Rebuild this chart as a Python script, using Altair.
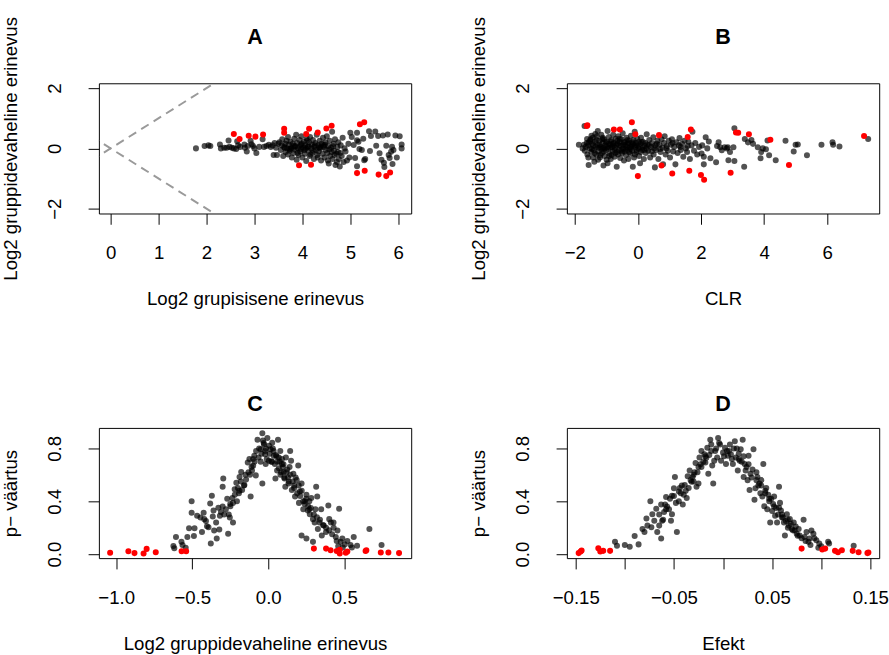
import altair as alt
import pandas as pd

FONT = "Liberation Sans"

# ---------------- Panel A (x: Log2 grupisisene erinevus, y: Log2 gruppidevaheline erinevus)
a_black_x = [1.78, 1.96, 2.04, 2.08, 2.28, 2.30, 2.37, 2.42, 2.46, 2.48, 2.53, 2.57, 2.62, 2.64, 2.66, 2.70,
             2.79, 2.80, 2.84, 2.86, 2.92, 2.94, 2.97, 3.00, 3.04, 3.10, 3.17, 3.20, 3.25, 3.30, 3.34, 3.38,
             3.40, 3.42, 3.45, 3.47, 3.50,
             3.52, 3.55, 3.57, 3.58, 3.60, 3.62, 3.64, 3.65, 3.67, 3.68, 3.70, 3.70,
             3.72, 3.74, 3.75, 3.77, 3.78, 3.80, 3.81, 3.83, 3.84, 3.86, 3.87, 3.88, 3.89,
             3.91, 3.92, 3.94, 3.95, 3.96, 3.98, 3.99, 4.00, 4.02, 4.03, 4.05, 4.06, 4.08, 4.09,
             4.11, 4.12, 4.14, 4.15, 4.16, 4.18, 4.20, 4.21, 4.22, 4.24, 4.25, 4.27, 4.28, 4.30,
             4.31, 4.33, 4.34, 4.36, 4.37, 4.39, 4.40, 4.42, 4.43, 4.45, 4.46, 4.48, 4.49,
             4.51, 4.52, 4.54, 4.55, 4.57, 4.58, 4.60, 4.62, 4.63, 4.65, 4.66, 4.68, 4.69,
             4.71, 4.73, 4.75, 4.76, 4.78, 4.80, 4.82, 4.84, 4.86, 4.88, 4.90, 4.93, 4.96, 4.98,
             5.00, 5.03, 5.07, 5.10, 5.14, 5.14, 5.14, 5.17, 5.19, 5.24, 5.27, 5.29, 5.31, 5.39, 5.41,
             5.43, 5.52, 5.54, 5.58, 5.61, 5.65, 5.68, 5.70, 5.71, 5.75, 5.78, 5.80, 5.82, 5.85, 5.87,
             5.88, 5.90, 5.94, 5.97, 6.03, 6.07, 6.07,
             3.63, 3.73, 3.85, 3.97, 4.07, 4.13, 4.23, 4.35, 4.44, 4.56, 4.64, 4.74,
             3.75, 3.82, 3.90, 3.97, 4.04, 4.10, 4.17, 4.26, 4.32, 4.38, 4.47, 4.53, 4.61, 4.67, 4.72, 4.79]
a_black_y = [0.00, 0.08, 0.10, 0.08, 0.13, 0.00, 0.02, 0.02, 0.26, 0.05, 0.02, 0.00, -0.02, 0.24, 0.10, 0.05,
             0.13, 0.02, -0.10, 0.08, 0.25, 0.14, 0.08, 0.00, -0.15, 0.05, 0.30, 0.05, 0.08, 0.12, 0.05, 0.10,
             -0.22, 0.18, 0.02, -0.22, 0.15,
             0.20, -0.05, 0.10, 0.30, -0.25, 0.05, 0.15, -0.12, 0.25, 0.00, -0.20, 0.38,
             0.12, -0.08, 0.22, 0.02, -0.30, 0.15, -0.15, 0.32, 0.05, -0.05, 0.45, -0.38, 0.18,
             0.00, -0.22, 0.28, 0.08, -0.10, 0.40, 0.15, -0.30, 0.02, 0.22, -0.18, 0.10, -0.42, 0.33,
             0.05, -0.08, 0.20, -0.25, 0.38, 0.00, 0.12, -0.15, 0.28, -0.35, 0.05, 0.18, -0.05, 0.45,
             -0.22, 0.10, -0.10, 0.25, 0.00, -0.40, 0.15, -0.18, 0.35, 0.05, -0.30, 0.20, -0.05,
             0.40, -0.15, 0.08, -0.50, 0.25, -0.25, 0.02, 0.55, -0.35, 0.15, -0.08, 0.30, -0.55,
             -0.18, 0.05, 0.20, -0.35, -0.60, 0.10, -0.25, 0.35, -0.45, 0.00, -0.10, -0.40, 0.15, -0.30,
             0.52, 0.38, 0.11, -0.32, 0.52, 0.27, -0.59, 0.22, -0.02, -0.05, 0.32, -0.39, -0.35, 0.57, -0.09,
             0.41, 0.56, 0.09, 0.41, -0.16, -0.38, 0.43, -0.48, -0.62, 0.09, 0.46, -0.22, -0.32, -0.11, 0.05,
             -0.52, -0.05, 0.43, -0.30, 0.40, 0.13, 0.00,
             0.02, -0.02, 0.08, -0.03, 0.00, 0.06, -0.08, 0.03, 0.10, -0.04, 0.07, -0.12,
             -0.02, 0.08, -0.15, 0.12, -0.05, 0.25, -0.20, 0.10, -0.30, 0.05, 0.12, -0.40, -0.12, -0.22, -0.45, -0.15]
a_red_x = [2.57, 2.69, 2.88, 3.02, 3.18, 3.62, 3.62, 3.93, 4.08, 4.14, 4.18, 4.32, 4.50, 4.61,
           5.14, 5.20, 5.29, 5.30, 5.59, 5.75, 5.83]
a_red_y = [0.48, 0.31, 0.42, 0.39, 0.46, 0.65, 0.52, -0.56, 0.48, 0.65, -0.54, 0.53, 0.66, 0.75,
           -0.82, 0.80, 0.87, -0.74, -0.87, -0.92, -0.80]
# reference lines y = x and y = -x
ab_x = [-0.4, 2.5]
ab_up_y = [-0.4, 2.5]
ab_down_y = [0.4, -2.5]

# ---------------- Panel B (x: CLR)
b_black_x = [-1.87, -1.71, -1.69, -1.61, -1.58, -1.56, -1.55, -1.52, -1.50, -1.48, -1.45, -1.43, -1.40, -1.38,
             -1.36, -1.34, -1.32, -1.30, -1.28, -1.27, -1.25, -1.22, -1.20, -1.18, -1.16, -1.14, -1.12, -1.10,
             -1.09, -1.07, -1.05, -1.03, -1.01,
             -0.98, -0.96, -0.96, -0.94, -0.92, -0.90, -0.88, -0.86, -0.84, -0.82, -0.80, -0.78, -0.76, -0.74,
             -0.72, -0.70, -0.67, -0.66, -0.64, -0.62, -0.60, -0.58, -0.56, -0.54, -0.52, -0.50, -0.48, -0.46,
             -0.44, -0.42, -0.40, -0.38, -0.36, -0.34, -0.32, -0.30, -0.28, -0.26, -0.24, -0.22, -0.20, -0.18,
             -0.16, -0.14, -0.12, -0.10, -0.08, -0.06, -0.04, -0.02,
             0.02, 0.04, 0.07, 0.08, 0.10, 0.13, 0.16, 0.19, 0.22, 0.25, 0.28, 0.30, 0.33, 0.36, 0.39, 0.42,
             0.45, 0.49, 0.50, 0.54, 0.55, 0.58, 0.62, 0.65, 0.68, 0.72, 0.75, 0.78, 0.80, 0.83, 0.85, 0.88,
             0.92, 0.95, 0.98,
             1.02, 1.05, 1.08, 1.12, 1.15, 1.19, 1.22, 1.26, 1.30, 1.32, 1.36, 1.40, 1.44, 1.48, 1.52, 1.56,
             1.60, 1.65, 1.70, 1.73, 1.78, 1.82, 1.88, 1.94,
             -1.65, -1.60, -1.47, -1.42, -1.35, -1.26, -1.21, -1.15, -1.11, -1.06, -0.99, -0.93, -0.87, -0.83,
             -0.77, -0.71, -0.65, -0.59, -0.53, -0.47, -0.41, -0.35, -0.29, -0.23, -0.17, -0.11, -0.05, 0.05,
             0.12, 0.20, 0.27, 0.35, 0.44, 0.52, 0.60, 0.70, 0.90, 1.10, 1.35, 1.58,
             -1.75, -1.68, -1.62, -1.57, -1.51, -1.46, -1.41, -1.37, -1.31, -1.24, -1.19, -1.13, -1.08, -1.02,
             -0.97, -0.91, -0.85, -0.79, -0.73, -0.68, -0.63, -0.57, -0.51, -0.45, -0.39, -0.33, -0.27, -0.21,
             -0.15, -0.09, -0.03, 0.03, 0.09, 0.15, 0.24,
             2.02, 2.04, 2.09, 2.09, 2.15, 2.20, 2.25, 2.30, 2.48, 2.51, 2.56, 2.61, 2.66, 2.75, 2.82, 2.85,
             2.87, 2.92, 3.03, 3.06, 3.06, 3.37, 3.39, 3.49, 3.60, 3.65, 3.80, 3.89, 3.91, 3.96, 4.06, 4.11,
             4.16, 4.37, 4.68, 4.94, 5.00, 5.07, 5.36, 5.82, 6.17, 6.19, 6.39, 7.30]
b_black_y = [0.12, 0.12, 0.74, 0.31, 0.10, -0.55, 0.20, 0.00, 0.30, -0.12, 0.15, 0.35, -0.05, -0.44,
             0.22, 0.05, -0.20, 0.40, 0.10, 0.58, -0.10, 0.25, -0.30, 0.05, 0.45, -0.15, 0.18, 0.02,
             -0.57, 0.30, -0.25, 0.10, -0.05,
             0.22, -0.49, 0.58, 0.00, 0.38, -0.18, 0.12, -0.35, 0.28, 0.05, -0.10, 0.45, 0.18, -0.28,
             0.02, 0.32, -0.61, -0.12, 0.15, 0.40, -0.05, 0.22, -0.32, 0.08, 0.30, -0.15, 0.50, 0.00,
             -0.40, 0.20, 0.10, -0.22, 0.35, -0.05, 0.15, -0.35, 0.25, 0.02, -0.18, 0.42, 0.10, -0.08,
             -0.61, 0.28, -0.30, 0.55, 0.05, 0.18, -0.12, 0.32,
             0.00, -0.25, -0.49, 0.15, 0.35, -0.05, 0.22, -0.35, 0.08, -0.15, 0.47, 0.12, -0.08, 0.28, -0.30, 0.05,
             0.18, 0.37, -0.20, -0.63, 0.10, -0.05, 0.25, -0.35, 0.12, -0.12, 0.30, 0.02, -0.53, 0.18, 0.40, -0.20,
             0.08, -0.08, 0.25,
             -0.30, 0.12, 0.30, -0.10, 0.05, -0.53, 0.20, -0.15, 0.10, 0.34, -0.05, 0.15, -0.28, 0.25, 0.00, -0.12,
             0.22, -0.35, 0.10, 0.55, -0.08, 0.18, -0.20, 0.05,
             0.05, -0.20, 0.42, -0.30, 0.48, -0.38, 0.12, -0.02, 0.35, 0.00, -0.38, 0.15, 0.02, -0.22,
             0.08, -0.15, 0.25, 0.10, -0.05, 0.12, -0.10, 0.05, 0.18, -0.02, 0.20, 0.10, -0.05, 0.05,
             0.20, -0.05, 0.00, 0.10, -0.10, 0.00, 0.15, -0.02, 0.00, 0.18, 0.05, 0.08,
             0.00, -0.08, 0.18, -0.30, 0.25, -0.02, 0.10, -0.15, 0.28, 0.02, -0.22, 0.30, -0.10, 0.20,
             0.05, -0.25, 0.22, 0.15, -0.05, 0.12, -0.20, 0.32, -0.10, 0.20, -0.02, 0.28, -0.12, 0.05,
             0.15, -0.20, 0.10, 0.22, -0.12, 0.02, 0.18,
             -0.17, 0.10, -0.28, -0.53, 0.37, 0.00, 0.23, -0.33, -0.46, 0.08, 0.20, 0.04, -0.06, 0.04, 0.00, 0.04,
             -0.39, -0.12, 0.04, 0.67, -0.42, -0.61, 0.31, 0.20, 0.28, 0.15, 0.04, -0.33, -0.12, 0.00, -0.03, 0.26,
             -0.23, -0.39, 0.25, -0.10, 0.12, 0.13, -0.23, 0.12, 0.20, 0.12, 0.06, 0.31]
b_red_x = [-1.62, -1.60, -0.76, -0.57, -0.19, -0.08, 0.00, 0.67, 0.75, 1.09, 1.58, 1.63, 1.68, 2.00, 2.10,
           2.94, 3.11, 3.18, 3.52, 4.20, 4.79, 7.17]
b_red_y = [0.74, 0.77, 0.63, 0.63, 0.87, 0.47, -0.92, 0.44, -0.57, -0.83, 0.38, -0.74, 0.63, -0.88, -1.04,
           -0.81, 0.53, 0.52, 0.47, 0.29, -0.55, 0.41]

# ---------------- Panel C (x: Log2 gruppidevaheline erinevus, y: p-value)
c_black_x = [-0.624, -0.607, -0.618, -0.571, -0.564, -0.543, -0.532, -0.521, -0.504, -0.504, -0.489, -0.485,
             -0.468, -0.446, -0.436, -0.425, -0.421, -0.403, -0.393, -0.382, -0.378, -0.371, -0.365, -0.356,
             -0.343, -0.339, -0.328, -0.322, -0.318, -0.311, -0.300, -0.296, -0.279, -0.264, -0.253, -0.249,
             -0.236, -0.232, -0.232, -0.221, -0.210, -0.206, -0.193, -0.189, -0.178, -0.172, -0.157, -0.146,
             -0.135, -0.124, -0.116, -0.107, -0.099, -0.092, -0.082, -0.071, -0.064, -0.049, -0.039, -0.039,
             -0.028, -0.021, -0.017, -0.006,
             -0.41, -0.36, -0.30, -0.27, -0.26, -0.22, -0.20, -0.18, -0.15, -0.13, -0.11, -0.10, -0.08, -0.06,
             -0.05, -0.03, -0.02, -0.01,
             0.004, 0.015, 0.026, 0.036, 0.043, 0.047, 0.058, 0.064, 0.069, 0.079, 0.090, 0.101, 0.107, 0.112,
             0.116, 0.133, 0.144, 0.150, 0.155, 0.165, 0.176, 0.187, 0.197, 0.202, 0.208, 0.219, 0.230, 0.240,
             0.251, 0.262, 0.273, 0.283, 0.294, 0.305, 0.315, 0.322, 0.326, 0.337, 0.348, 0.352, 0.365, 0.380,
             0.395, 0.401, 0.412, 0.429, 0.444, 0.455, 0.466, 0.476, 0.487, 0.502, 0.541, 0.562, 0.584, 0.665,
             0.745, 0.219, 0.251, 0.294,
             0.01, 0.02, 0.03, 0.05, 0.06, 0.07, 0.08, 0.09, 0.10, 0.12, 0.13, 0.14, 0.16, 0.17, 0.18, 0.20,
             0.21, 0.22, 0.24, 0.25, 0.26, 0.27, 0.28, 0.30, 0.31, 0.32, 0.34, 0.36, 0.38, 0.40, 0.42, 0.43,
             0.45, 0.46, 0.49, 0.52, 0.55,
             -0.045, -0.035, -0.015, 0.005, 0.025, 0.035, 0.055, 0.075, 0.085, 0.095, 0.105, 0.125, 0.135, 0.145,
             0.17, 0.19, 0.23, 0.27, -0.09, -0.12, -0.16, -0.19, -0.25, -0.29]
c_black_y = [0.061, 0.130, 0.045, 0.093, 0.069, 0.049, 0.130, 0.196, 0.400, 0.314, 0.137, 0.196,
             0.290, 0.277, 0.167, 0.314, 0.265, 0.211, 0.204, 0.383, 0.081, 0.442, 0.285, 0.179,
             0.240, 0.118, 0.351, 0.187, 0.290, 0.319, 0.510, 0.572, 0.339, 0.155, 0.277, 0.363,
             0.425, 0.240, 0.388, 0.491, 0.540, 0.400, 0.461, 0.584, 0.621, 0.486, 0.523, 0.564,
             0.694, 0.719, 0.437, 0.633, 0.670, 0.744, 0.596, 0.866, 0.731, 0.793, 0.535, 0.915,
             0.829, 0.756, 0.682, 0.878,
             0.25, 0.33, 0.36, 0.42, 0.30, 0.45, 0.50, 0.55, 0.60, 0.62, 0.66, 0.72, 0.78, 0.80,
             0.70, 0.84, 0.78, 0.72,
             0.707, 0.793, 0.842, 0.744, 0.682, 0.572, 0.633, 0.866, 0.731, 0.780, 0.682, 0.621, 0.572, 0.510,
             0.731, 0.535, 0.780, 0.707, 0.486, 0.609, 0.437, 0.560, 0.670, 0.388, 0.474, 0.535, 0.339, 0.400,
             0.449, 0.363, 0.302, 0.425, 0.265, 0.240, 0.510, 0.437, 0.191, 0.240, 0.339, 0.142, 0.216, 0.167,
             0.368, 0.265, 0.240, 0.240, 0.130, 0.179, 0.344, 0.093, 0.118, 0.074, 0.069, 0.130, 0.064, 0.191,
             0.069, 0.142, 0.118, 0.093,
             0.76, 0.70, 0.80, 0.75, 0.70, 0.65, 0.60, 0.72, 0.68, 0.62, 0.58, 0.66, 0.55, 0.50, 0.58, 0.52,
             0.44, 0.48, 0.38, 0.42, 0.33, 0.40, 0.35, 0.30, 0.34, 0.28, 0.26, 0.22, 0.20, 0.18, 0.15, 0.20,
             0.10, 0.06, 0.05, 0.10, 0.05,
             0.76, 0.86, 0.80, 0.82, 0.70, 0.78, 0.74, 0.70, 0.62, 0.66, 0.58, 0.64, 0.55, 0.60,
             0.52, 0.46, 0.40, 0.34, 0.70, 0.60, 0.52, 0.48, 0.38, 0.30]
c_red_x = [-1.04, -0.92, -0.88, -0.82, -0.80, -0.74, -0.57, -0.54, 0.30, 0.38, 0.41, 0.45, 0.47, 0.47,
           0.52, 0.51, 0.64, 0.645, 0.74, 0.79, 0.86]
c_red_y = [0.010, 0.022, 0.008, 0.005, 0.040, 0.015, 0.022, 0.022, 0.042, 0.042, 0.030, 0.024, 0.034, 0.005,
           0.020, 0.010, 0.024, 0.030, 0.012, 0.012, 0.008]

# ---------------- Panel D (x: Efekt, y: p-value)
d_black_x = [-0.110, -0.108, -0.100, -0.095, -0.090, -0.086, -0.082, -0.080, -0.078, -0.077, -0.074, -0.073,
             -0.072, -0.070, -0.068, -0.067, -0.065, -0.063, -0.062, -0.063, -0.061, -0.060, -0.059, -0.058,
             -0.055, -0.053, -0.052, -0.052, -0.050, -0.049, -0.048, -0.047, -0.045, -0.043, -0.041, -0.039,
             -0.037, -0.036, -0.034, -0.032, -0.031, -0.028, -0.027, -0.025, -0.024, -0.022, -0.022, -0.019,
             -0.018, -0.016, -0.015, -0.013, -0.012, -0.011, -0.010, -0.009, -0.008, -0.006, -0.005, -0.003,
             -0.002, 0.000, 0.002, 0.003, 0.005, 0.007, 0.008, 0.010, 0.012, 0.013, 0.015, 0.017, 0.018,
             0.020, 0.021, 0.022, 0.023, 0.025, 0.026, 0.027, 0.028, 0.031, 0.032, 0.033, 0.035, 0.037, 0.038,
             0.040, 0.041, 0.042, 0.043, 0.045, 0.047, 0.048, 0.050, 0.052, 0.053, 0.055, 0.057, 0.057, 0.058,
             0.060, 0.062, 0.063, 0.065, 0.067, 0.068, 0.070, 0.072, 0.073, 0.075, 0.077, 0.078, 0.082, 0.083,
             0.085, 0.087, 0.088, 0.090, 0.092, 0.095, 0.097, 0.098, 0.107, 0.108, 0.133,
             -0.045, -0.040, -0.035, -0.030, -0.026, -0.020, -0.014, -0.007, 0.004, 0.009, 0.014, 0.016, 0.019,
             0.024, 0.029, 0.034, 0.036, 0.039, 0.044, 0.046, 0.049, 0.051, 0.054, 0.056, 0.059, 0.061, 0.064,
             0.066, 0.069, 0.071, 0.074, 0.076, 0.080, 0.084, 0.089, 0.093, 0.100, -0.065, -0.057, -0.054,
             -0.044, -0.038, -0.033, -0.029, -0.023, -0.017,
             -0.030, -0.025, -0.018, -0.012, -0.004, 0.001, 0.006, 0.011, 0.016, 0.021, 0.026, 0.030, 0.034,
             0.039, 0.043, 0.047, 0.052, 0.060, 0.066, -0.042, -0.050, -0.058]
d_black_y = [0.093, 0.064, 0.069, 0.056, 0.137, 0.074, 0.191, 0.167, 0.270, 0.216, 0.400, 0.204,
             0.302, 0.253, 0.344, 0.167, 0.216, 0.375, 0.253, 0.118, 0.260, 0.319, 0.375, 0.432,
             0.339, 0.253, 0.302, 0.442, 0.498, 0.584, 0.388, 0.167, 0.474, 0.461, 0.375, 0.523,
             0.425, 0.589, 0.633, 0.547, 0.584, 0.689, 0.510, 0.535, 0.731, 0.660, 0.780, 0.756,
             0.694, 0.805, 0.609, 0.866, 0.829, 0.670, 0.535, 0.707, 0.780, 0.731, 0.878, 0.829,
             0.707, 0.768, 0.805, 0.682, 0.744, 0.829, 0.756, 0.682, 0.854, 0.731, 0.633, 0.707, 0.793,
             0.866, 0.584, 0.682, 0.633, 0.560, 0.744, 0.486, 0.609, 0.793, 0.412, 0.498, 0.584, 0.535, 0.461,
             0.437, 0.682, 0.363, 0.461, 0.339, 0.400, 0.240, 0.326, 0.437, 0.290, 0.240, 0.510, 0.351, 0.388,
             0.277, 0.240, 0.142, 0.302, 0.216, 0.265, 0.191, 0.240, 0.179, 0.155, 0.191, 0.142, 0.260, 0.130,
             0.167, 0.093, 0.118, 0.179, 0.155, 0.106, 0.049, 0.081, 0.093, 0.081, 0.064,
             0.40, 0.45, 0.50, 0.55, 0.62, 0.70, 0.75, 0.80, 0.78, 0.72, 0.80, 0.76, 0.70,
             0.66, 0.58, 0.62, 0.52, 0.56, 0.50, 0.45, 0.42, 0.38, 0.35, 0.30, 0.33, 0.28, 0.25,
             0.20, 0.23, 0.18, 0.21, 0.14, 0.12, 0.10, 0.07, 0.12, 0.06, 0.30, 0.36, 0.42,
             0.50, 0.48, 0.56, 0.62, 0.68, 0.73,
             0.60, 0.66, 0.74, 0.78, 0.84, 0.74, 0.78, 0.80, 0.72, 0.74, 0.68, 0.64, 0.56,
             0.52, 0.48, 0.42, 0.36, 0.30, 0.26, 0.52, 0.44, 0.34]
d_red_x = [-0.147, -0.145, -0.144, -0.127, -0.125, -0.122, -0.115, 0.080, 0.101, 0.104, 0.114, 0.117, 0.121,
           0.132, 0.138, 0.147, 0.148]
d_red_y = [0.008, 0.020, 0.028, 0.044, 0.020, 0.025, 0.025, 0.042, 0.036, 0.042, 0.025, 0.015, 0.030,
           0.025, 0.015, 0.008, 0.012]

W, H = 319, 133
BLACK_OP = 0.68
SIZE = 38


def panel(title, bx, by, rx, ry, xdom, ydom, xvals, yvals, xtitle, ytitle,
          xfmt, yfmt, title_dy, xlabexpr=None, ylabexpr=None, extra=None):
    black = pd.DataFrame({"x": bx, "y": by})
    red = pd.DataFrame({"x": rx, "y": ry})
    xaxis = dict(values=xvals, title=xtitle, format=xfmt)
    if xlabexpr:
        xaxis["labelExpr"] = xlabexpr
    yaxis = dict(values=yvals, title=ytitle, format=yfmt,
                 labelAngle=270, labelAlign="center", labelBaseline="alphabetic")
    if ylabexpr:
        yaxis["labelExpr"] = ylabexpr
    xs = alt.Scale(domain=xdom, nice=False, zero=False)
    ys = alt.Scale(domain=ydom, nice=False, zero=False)
    pts_b = alt.Chart(black).mark_circle(size=SIZE, color="black", opacity=BLACK_OP).encode(
        x=alt.X("x:Q", scale=xs, axis=alt.Axis(**xaxis)),
        y=alt.Y("y:Q", scale=ys, axis=alt.Axis(**yaxis)),
    )
    pts_r = alt.Chart(red).mark_circle(size=SIZE, color="#FF0000", opacity=1).encode(
        x=alt.X("x:Q", scale=xs), y=alt.Y("y:Q", scale=ys))
    layers = []
    if extra is not None:
        layers += extra(xs, ys)
    layers += [pts_b, pts_r]
    return alt.layer(*layers).properties(
        width=W, height=H,
        title=alt.TitleParams(title, fontSize=22, fontWeight="bold", font=FONT,
                              anchor="middle", frame="group", offset=35, dy=title_dy,
                              color="black"))


def ablines(xs, ys):
    d1 = pd.DataFrame({"x": ab_x, "y": ab_up_y})
    d2 = pd.DataFrame({"x": ab_x, "y": ab_down_y})
    out = []
    for d in (d1, d2):
        out.append(alt.Chart(d).mark_line(color="#9a9a9a", strokeWidth=2, strokeDash=[9, 6], clip=True)
                   .encode(x=alt.X("x:Q", scale=xs), y=alt.Y("y:Q", scale=ys)))
    return out


pA = panel("A", a_black_x, a_black_y, a_red_x, a_red_y, [-0.245, 6.27], [-2.16, 2.16],
           [0, 1, 2, 3, 4, 5, 6], [-2, -1, 0, 1, 2],
           "Log2 grupisisene erinevus", "Log2 gruppidevaheline erinevus", "d", "d", 68,
           ylabexpr="datum.value == -1 ? '' : datum.label", extra=ablines)
pB = panel("B", b_black_x, b_black_y, b_red_x, b_red_y, [-2.25, 7.65], [-2.16, 2.16],
           [-2, 0, 2, 4, 6], [-2, -1, 0, 1, 2],
           "CLR", "Log2 gruppidevaheline erinevus", "d", "d", 68,
           ylabexpr="datum.value == -1 ? '' : datum.label")
pC = panel("C", c_black_x, c_black_y, c_red_x, c_red_y, [-1.114, 0.94], [-0.03, 0.955],
           [-1.0, -0.5, 0.0, 0.5], [0, 0.2, 0.4, 0.6, 0.8],
           "Log2 gruppidevaheline erinevus", "p\u2212 v\u00e4\u00e4rtus", ".1f", ".1f", 23,
           ylabexpr="(abs(datum.value-0.2)<0.01 || abs(datum.value-0.6)<0.01) ? '' : datum.label")
pD = panel("D", d_black_x, d_black_y, d_red_x, d_red_y, [-0.159, 0.159], [-0.03, 0.955],
           [-0.15, -0.10, -0.05, 0.0, 0.05, 0.10, 0.15], [0, 0.2, 0.4, 0.6, 0.8],
           "Efekt", "p\u2212 v\u00e4\u00e4rtus", ".2f", ".1f", 23,
           xlabexpr="(abs(datum.value)<0.01 || abs(abs(datum.value)-0.1)<0.01) ? '' : datum.label",
           ylabexpr="(abs(datum.value-0.2)<0.01 || abs(datum.value-0.6)<0.01) ? '' : datum.label")

chart = alt.vconcat(
    alt.hconcat(pA, pB, spacing=58),
    alt.hconcat(pC, pD, spacing=58),
    spacing=85,
).properties(
    padding={"left": 1, "top": 9, "right": 0, "bottom": 0},
    background="white",
).configure_view(
    stroke="black", strokeWidth=1
).configure_axis(
    labelFont=FONT, titleFont=FONT, labelFontSize=19, titleFontSize=19,
    labelColor="black", titleColor="black", titleFontWeight="normal",
    tickColor="black", tickSize=11, tickWidth=1, domain=False, grid=False,
    labelOverlap=False, labelFlush=False,
).configure_axisX(
    labelPadding=20, titlePadding=28,
).configure_axisY(
    labelPadding=28, titlePadding=26,
)

chart.save("out.html", embed_options={"renderer": "svg", "actions": False})
